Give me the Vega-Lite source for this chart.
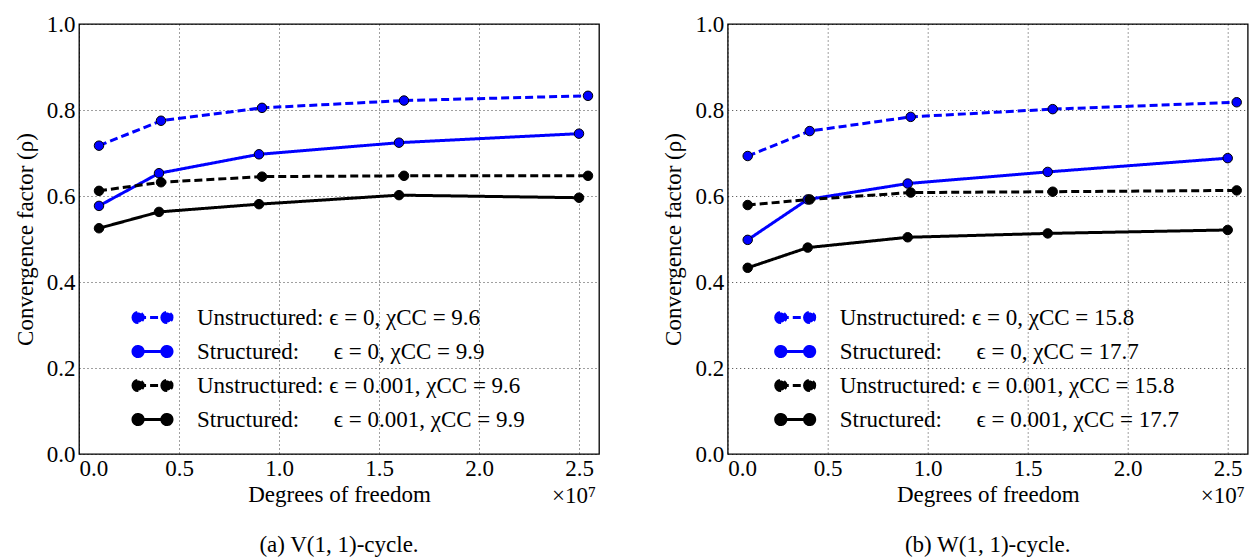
{
  "$schema": "https://vega.github.io/schema/vega-lite/v6.json",
  "background": "white",
  "padding": {"left": 13, "top": 12, "right": 4, "bottom": 0},
  "bounds": "flush",
  "spacing": 128.7,
  "config": {
    "font": "Liberation Serif, Times New Roman, serif",
    "view": {"stroke": "black", "strokeWidth": 1.3},
    "style": {"guide-label": {"font": "Liberation Serif, Times New Roman, serif"}, "guide-title": {"font": "Liberation Serif, Times New Roman, serif"}},
    "axis": {
      "labelFont": "Liberation Serif, Times New Roman, serif", "labelFontSize": 23, "labelColor": "#000",
      "titleFont": "Liberation Serif, Times New Roman, serif", "titleFontSize": 23, "titleFontWeight": "normal", "titleColor": "#000",
      "grid": true, "gridColor": "#000", "gridDash": [1, 3], "gridOpacity": 0.75, "gridWidth": 1,
      "ticks": false, "domain": false
    },
    "axisY": {"minExtent": 36, "maxExtent": 36, "labelPadding": 4, "titlePadding": 6},
    "axisX": {"labelPadding": 3, "titlePadding": 3},
    "legend": {"labelFont": "Liberation Serif, Times New Roman, serif"},
    "text": {"font": "Liberation Serif, Times New Roman, serif"},
    "title": {"font": "Liberation Serif, Times New Roman, serif", "fontSize": 23, "fontWeight": "normal", "color": "#000"}
  },
  "hconcat": [
    {
      "width": 520, "height": 430,
      "title": {"text": "(a) V(1, 1)-cycle.", "orient": "bottom", "offset": 26},
      "layer": [
        {
          "data": {"values": [
            {"series": "Unstructured: ϵ = 0, χCC = 9.6", "dof": 1000000, "rho": 0.717},
            {"series": "Unstructured: ϵ = 0, χCC = 9.6", "dof": 4100000, "rho": 0.775},
            {"series": "Unstructured: ϵ = 0, χCC = 9.6", "dof": 9150000, "rho": 0.805},
            {"series": "Unstructured: ϵ = 0, χCC = 9.6", "dof": 16250000, "rho": 0.822},
            {"series": "Unstructured: ϵ = 0, χCC = 9.6", "dof": 25450000, "rho": 0.833},
            {"series": "Structured:\u00a0\u00a0\u00a0\u00a0\u00a0\u00a0ϵ = 0, χCC = 9.9", "dof": 1000000, "rho": 0.577},
            {"series": "Structured:\u00a0\u00a0\u00a0\u00a0\u00a0\u00a0ϵ = 0, χCC = 9.9", "dof": 4000000, "rho": 0.653},
            {"series": "Structured:\u00a0\u00a0\u00a0\u00a0\u00a0\u00a0ϵ = 0, χCC = 9.9", "dof": 9000000, "rho": 0.697},
            {"series": "Structured:\u00a0\u00a0\u00a0\u00a0\u00a0\u00a0ϵ = 0, χCC = 9.9", "dof": 16000000, "rho": 0.724},
            {"series": "Structured:\u00a0\u00a0\u00a0\u00a0\u00a0\u00a0ϵ = 0, χCC = 9.9", "dof": 25000000, "rho": 0.745},
            {"series": "Unstructured: ϵ = 0.001, χCC = 9.6", "dof": 1000000, "rho": 0.612},
            {"series": "Unstructured: ϵ = 0.001, χCC = 9.6", "dof": 4100000, "rho": 0.632},
            {"series": "Unstructured: ϵ = 0.001, χCC = 9.6", "dof": 9150000, "rho": 0.645},
            {"series": "Unstructured: ϵ = 0.001, χCC = 9.6", "dof": 16250000, "rho": 0.647},
            {"series": "Unstructured: ϵ = 0.001, χCC = 9.6", "dof": 25450000, "rho": 0.647},
            {"series": "Structured:\u00a0\u00a0\u00a0\u00a0\u00a0\u00a0ϵ = 0.001, χCC = 9.9", "dof": 1000000, "rho": 0.525},
            {"series": "Structured:\u00a0\u00a0\u00a0\u00a0\u00a0\u00a0ϵ = 0.001, χCC = 9.9", "dof": 4000000, "rho": 0.563},
            {"series": "Structured:\u00a0\u00a0\u00a0\u00a0\u00a0\u00a0ϵ = 0.001, χCC = 9.9", "dof": 9000000, "rho": 0.581},
            {"series": "Structured:\u00a0\u00a0\u00a0\u00a0\u00a0\u00a0ϵ = 0.001, χCC = 9.9", "dof": 16000000, "rho": 0.602},
            {"series": "Structured:\u00a0\u00a0\u00a0\u00a0\u00a0\u00a0ϵ = 0.001, χCC = 9.9", "dof": 25000000, "rho": 0.596}
          ]},
          "layer": [
            {
              "mark": {"type": "line", "strokeWidth": 3},
              "encoding": {
                "x": {"field": "dof", "type": "quantitative", "scale": {"domain": [0, 26000000], "nice": false},
                      "axis": {"values": [0, 5000000, 10000000, 15000000, 20000000, 25000000], "labelExpr": "format(datum.value / 10000000, '.1f')", "title": "Degrees of freedom"}},
                "y": {"field": "rho", "type": "quantitative", "scale": {"domain": [0, 1], "nice": false},
                      "axis": {"values": [0, 0.2, 0.4, 0.6, 0.8, 1.0], "format": ".1f", "title": "Convergence factor (ρ)"}},
                "color": {"field": "series", "type": "nominal",
                  "scale": {"domain": ["Unstructured: ϵ = 0, χCC = 9.6", "Structured:\u00a0\u00a0\u00a0\u00a0\u00a0\u00a0ϵ = 0, χCC = 9.9", "Unstructured: ϵ = 0.001, χCC = 9.6", "Structured:\u00a0\u00a0\u00a0\u00a0\u00a0\u00a0ϵ = 0.001, χCC = 9.9"], "range": ["#0000ff", "#0000ff", "#000000", "#000000"]},
                  "legend": {"orient": "none", "legendX": 62, "legendY": 282, "title": null,
                    "symbolType": "M-1.48,0L1.48,0M-2,0a0.52,0.52 0 1,0 1.04,0a0.52,0.52 0 1,0 -1.04,0M0.96,0a0.52,0.52 0 1,0 1.04,0a0.52,0.52 0 1,0 -1.04,0",
                    "symbolSize": 380, "symbolStrokeWidth": 3, "labelFontSize": 23, "labelFont": "Liberation Serif, Times New Roman, serif", "labelColor": "#000", "labelOffset": 33, "rowPadding": 10, "labelLimit": 0,
                    "encode": {"symbols": {"update": {
                      "fill": {"signal": "indexof(datum.value, 'ϵ = 0,') >= 0 ? '#0000ff' : '#000000'"},
                      "stroke": {"signal": "indexof(datum.value, 'ϵ = 0,') >= 0 ? '#0000ff' : '#000000'"},
                      "strokeWidth": {"value": 3},
                      "opacity": {"value": 1}
                    }}}}},
                "strokeDash": {"field": "series", "type": "nominal",
                  "scale": {"domain": ["Unstructured: ϵ = 0, χCC = 9.6", "Structured:\u00a0\u00a0\u00a0\u00a0\u00a0\u00a0ϵ = 0, χCC = 9.9", "Unstructured: ϵ = 0.001, χCC = 9.6", "Structured:\u00a0\u00a0\u00a0\u00a0\u00a0\u00a0ϵ = 0.001, χCC = 9.9"], "range": [[8, 4], [1, 0], [8, 4], [1, 0]]},
                  "legend": {"orient": "none", "legendX": 62, "legendY": 282, "title": null}}
              }
            },
            {
              "mark": {"type": "point", "filled": true, "size": 90, "stroke": "#000", "strokeWidth": 1, "opacity": 1},
              "encoding": {
                "x": {"field": "dof", "type": "quantitative"},
                "y": {"field": "rho", "type": "quantitative"},
                "color": {"field": "series", "type": "nominal"}
              }
            }
          ]
        },
        {
          "data": {"values": [{"label": "×10⁷"}]},
          "mark": {"type": "text", "align": "right", "baseline": "middle", "dy": 42, "dx": -3, "fontSize": 23, "font": "Liberation Serif, Times New Roman, serif", "color": "#000"},
          "encoding": {"x": {"datum": 26000000}, "y": {"datum": 0}, "text": {"field": "label"}}
        }
      ]
    },
    {
      "width": 520, "height": 430,
      "title": {"text": "(b) W(1, 1)-cycle.", "orient": "bottom", "offset": 26},
      "layer": [
        {
          "data": {"values": [
            {"series": "Unstructured: ϵ = 0, χCC = 15.8", "dof": 1000000, "rho": 0.693},
            {"series": "Unstructured: ϵ = 0, χCC = 15.8", "dof": 4100000, "rho": 0.751},
            {"series": "Unstructured: ϵ = 0, χCC = 15.8", "dof": 9150000, "rho": 0.784},
            {"series": "Unstructured: ϵ = 0, χCC = 15.8", "dof": 16250000, "rho": 0.802},
            {"series": "Unstructured: ϵ = 0, χCC = 15.8", "dof": 25450000, "rho": 0.818},
            {"series": "Structured:\u00a0\u00a0\u00a0\u00a0\u00a0\u00a0ϵ = 0, χCC = 17.7", "dof": 1000000, "rho": 0.498},
            {"series": "Structured:\u00a0\u00a0\u00a0\u00a0\u00a0\u00a0ϵ = 0, χCC = 17.7", "dof": 4000000, "rho": 0.592},
            {"series": "Structured:\u00a0\u00a0\u00a0\u00a0\u00a0\u00a0ϵ = 0, χCC = 17.7", "dof": 9000000, "rho": 0.629},
            {"series": "Structured:\u00a0\u00a0\u00a0\u00a0\u00a0\u00a0ϵ = 0, χCC = 17.7", "dof": 16000000, "rho": 0.656},
            {"series": "Structured:\u00a0\u00a0\u00a0\u00a0\u00a0\u00a0ϵ = 0, χCC = 17.7", "dof": 25000000, "rho": 0.688},
            {"series": "Unstructured: ϵ = 0.001, χCC = 15.8", "dof": 1000000, "rho": 0.579},
            {"series": "Unstructured: ϵ = 0.001, χCC = 15.8", "dof": 4100000, "rho": 0.592},
            {"series": "Unstructured: ϵ = 0.001, χCC = 15.8", "dof": 9150000, "rho": 0.608},
            {"series": "Unstructured: ϵ = 0.001, χCC = 15.8", "dof": 16250000, "rho": 0.610},
            {"series": "Unstructured: ϵ = 0.001, χCC = 15.8", "dof": 25450000, "rho": 0.613},
            {"series": "Structured:\u00a0\u00a0\u00a0\u00a0\u00a0\u00a0ϵ = 0.001, χCC = 17.7", "dof": 1000000, "rho": 0.433},
            {"series": "Structured:\u00a0\u00a0\u00a0\u00a0\u00a0\u00a0ϵ = 0.001, χCC = 17.7", "dof": 4000000, "rho": 0.480},
            {"series": "Structured:\u00a0\u00a0\u00a0\u00a0\u00a0\u00a0ϵ = 0.001, χCC = 17.7", "dof": 9000000, "rho": 0.504},
            {"series": "Structured:\u00a0\u00a0\u00a0\u00a0\u00a0\u00a0ϵ = 0.001, χCC = 17.7", "dof": 16000000, "rho": 0.513},
            {"series": "Structured:\u00a0\u00a0\u00a0\u00a0\u00a0\u00a0ϵ = 0.001, χCC = 17.7", "dof": 25000000, "rho": 0.521}
          ]},
          "layer": [
            {
              "mark": {"type": "line", "strokeWidth": 3},
              "encoding": {
                "x": {"field": "dof", "type": "quantitative", "scale": {"domain": [0, 26000000], "nice": false},
                      "axis": {"values": [0, 5000000, 10000000, 15000000, 20000000, 25000000], "labelExpr": "format(datum.value / 10000000, '.1f')", "title": "Degrees of freedom"}},
                "y": {"field": "rho", "type": "quantitative", "scale": {"domain": [0, 1], "nice": false},
                      "axis": {"values": [0, 0.2, 0.4, 0.6, 0.8, 1.0], "format": ".1f", "title": "Convergence factor (ρ)"}},
                "color": {"field": "series", "type": "nominal",
                  "scale": {"domain": ["Unstructured: ϵ = 0, χCC = 15.8", "Structured:\u00a0\u00a0\u00a0\u00a0\u00a0\u00a0ϵ = 0, χCC = 17.7", "Unstructured: ϵ = 0.001, χCC = 15.8", "Structured:\u00a0\u00a0\u00a0\u00a0\u00a0\u00a0ϵ = 0.001, χCC = 17.7"], "range": ["#0000ff", "#0000ff", "#000000", "#000000"]},
                  "legend": {"orient": "none", "legendX": 56, "legendY": 282, "title": null,
                    "symbolType": "M-1.48,0L1.48,0M-2,0a0.52,0.52 0 1,0 1.04,0a0.52,0.52 0 1,0 -1.04,0M0.96,0a0.52,0.52 0 1,0 1.04,0a0.52,0.52 0 1,0 -1.04,0",
                    "symbolSize": 380, "symbolStrokeWidth": 3, "labelFontSize": 23, "labelFont": "Liberation Serif, Times New Roman, serif", "labelColor": "#000", "labelOffset": 33, "rowPadding": 10, "labelLimit": 0,
                    "encode": {"symbols": {"update": {
                      "fill": {"signal": "indexof(datum.value, 'ϵ = 0,') >= 0 ? '#0000ff' : '#000000'"},
                      "stroke": {"signal": "indexof(datum.value, 'ϵ = 0,') >= 0 ? '#0000ff' : '#000000'"},
                      "strokeWidth": {"value": 3},
                      "opacity": {"value": 1}
                    }}}}},
                "strokeDash": {"field": "series", "type": "nominal",
                  "scale": {"domain": ["Unstructured: ϵ = 0, χCC = 15.8", "Structured:\u00a0\u00a0\u00a0\u00a0\u00a0\u00a0ϵ = 0, χCC = 17.7", "Unstructured: ϵ = 0.001, χCC = 15.8", "Structured:\u00a0\u00a0\u00a0\u00a0\u00a0\u00a0ϵ = 0.001, χCC = 17.7"], "range": [[8, 4], [1, 0], [8, 4], [1, 0]]},
                  "legend": {"orient": "none", "legendX": 56, "legendY": 282, "title": null}}
              }
            },
            {
              "mark": {"type": "point", "filled": true, "size": 90, "stroke": "#000", "strokeWidth": 1, "opacity": 1},
              "encoding": {
                "x": {"field": "dof", "type": "quantitative"},
                "y": {"field": "rho", "type": "quantitative"},
                "color": {"field": "series", "type": "nominal"}
              }
            }
          ]
        },
        {
          "data": {"values": [{"label": "×10⁷"}]},
          "mark": {"type": "text", "align": "right", "baseline": "middle", "dy": 42, "dx": -3, "fontSize": 23, "font": "Liberation Serif, Times New Roman, serif", "color": "#000"},
          "encoding": {"x": {"datum": 26000000}, "y": {"datum": 0}, "text": {"field": "label"}}
        }
      ]
    }
  ],
  "resolve": {"scale": {"color": "independent", "strokeDash": "independent"}, "legend": {"color": "independent", "strokeDash": "independent"}}
}
